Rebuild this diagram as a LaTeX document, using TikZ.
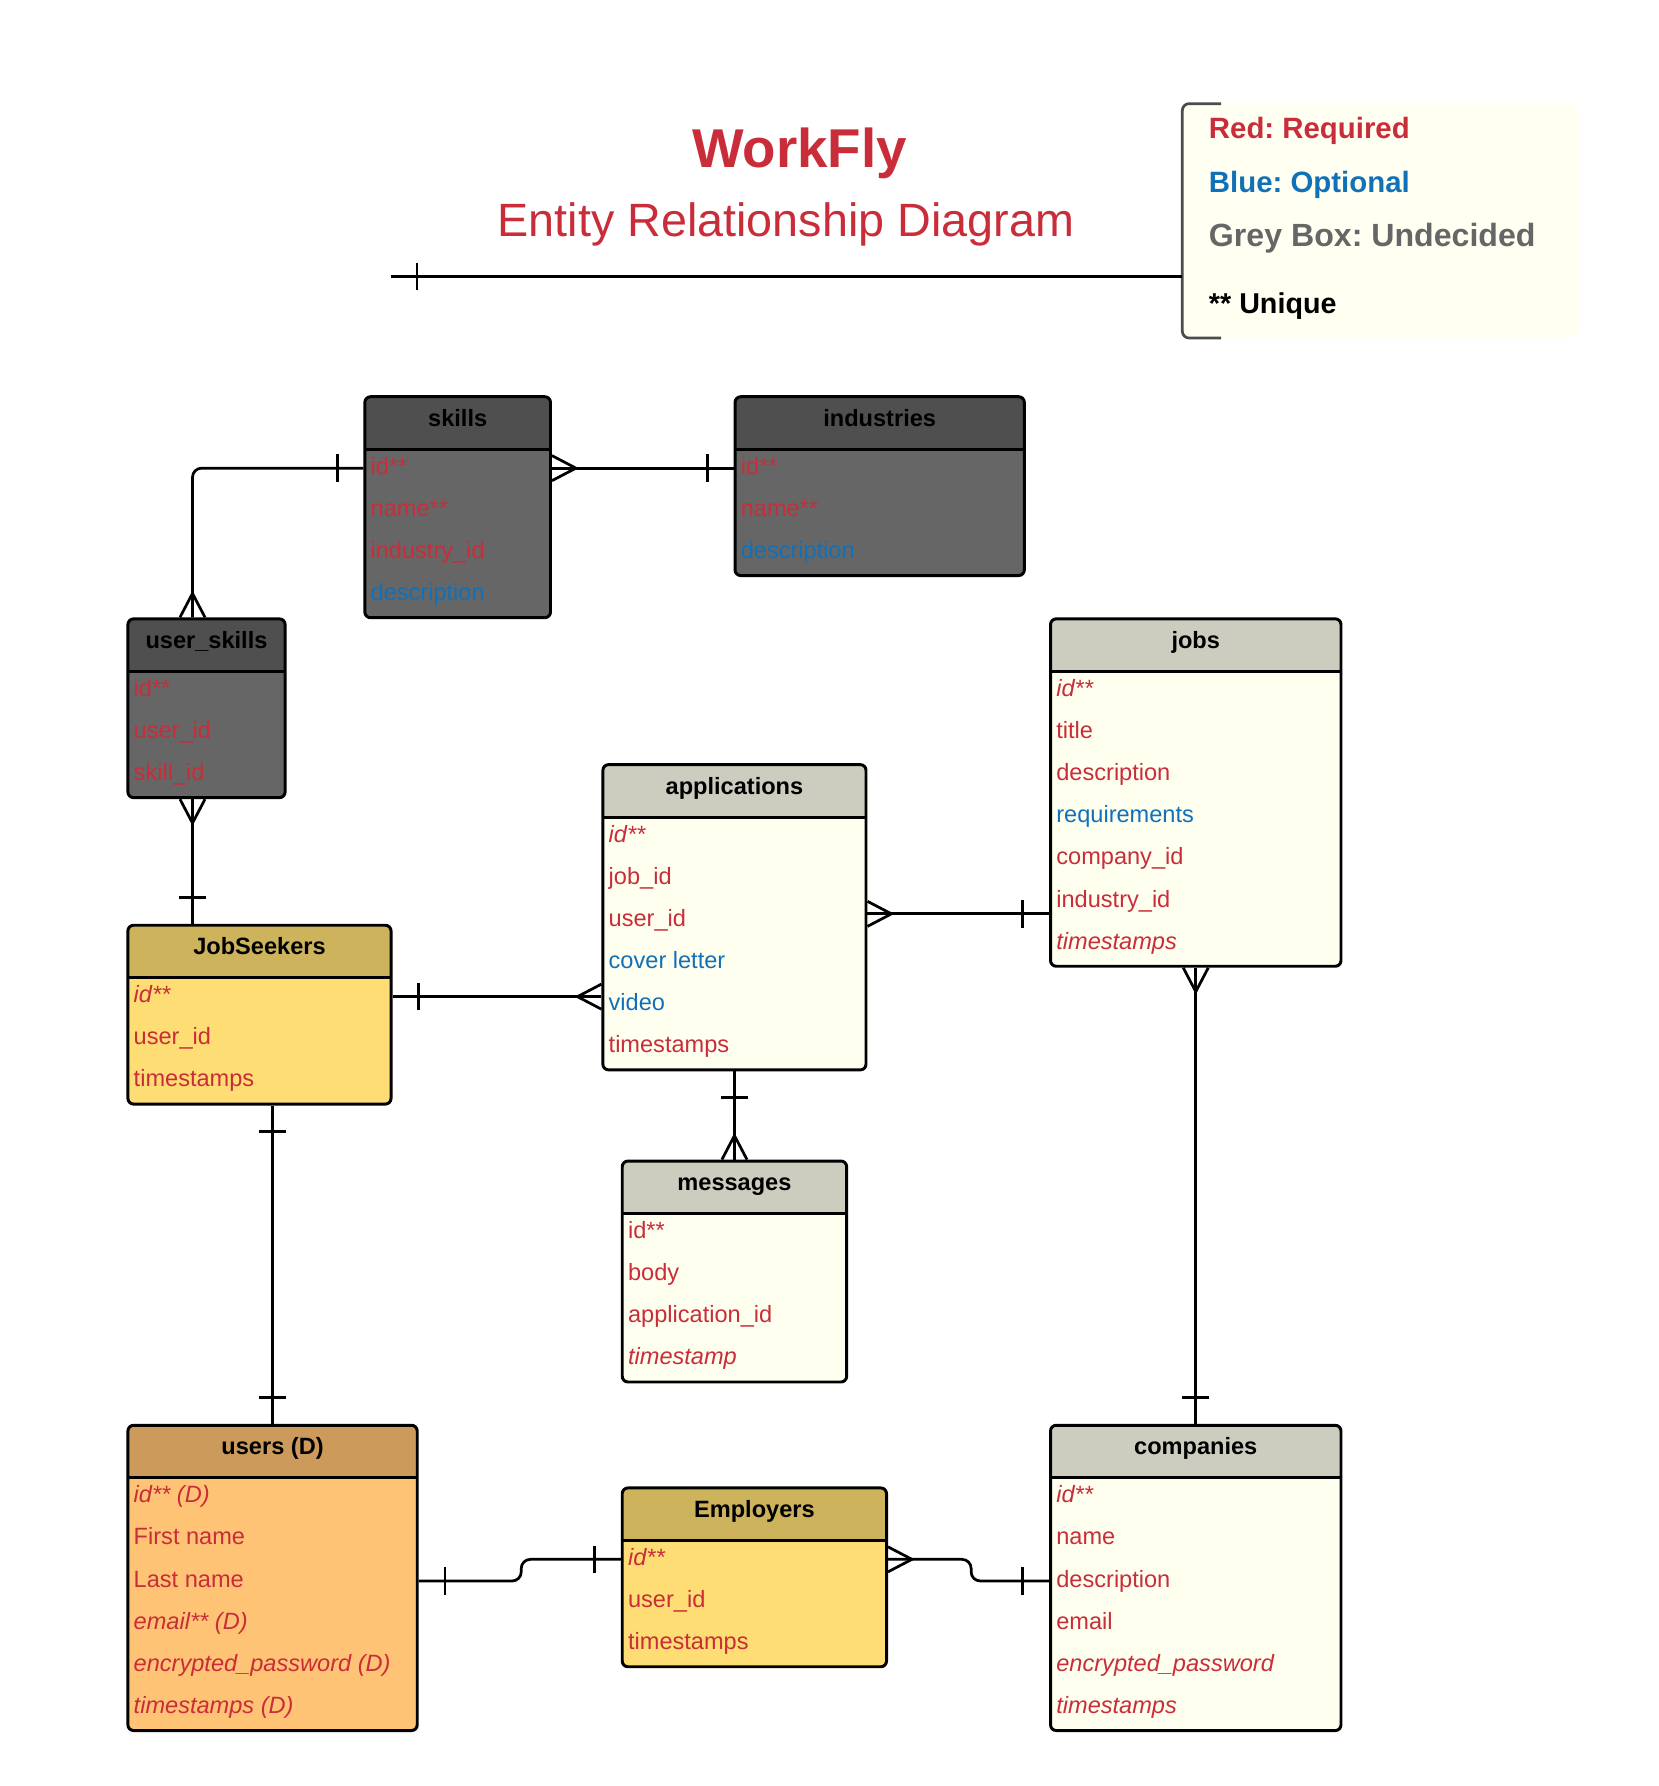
\documentclass[tikz,border=0pt]{standalone}
\usepackage{fontspec}
\setmainfont{Liberation Sans}
\frenchspacing
\usetikzlibrary{calc, decorations.markings}

\definecolor{ered}{HTML}{C92D39}
\definecolor{eblue}{HTML}{1071B9}
\definecolor{egrey}{HTML}{666666}
\definecolor{greyhd}{HTML}{4F4F4F}
\definecolor{greybd}{HTML}{666666}
\definecolor{lighthd}{HTML}{CCCCBF}
\definecolor{lightbd}{HTML}{FFFFF0}
\definecolor{goldhd}{HTML}{CCB35C}
\definecolor{goldbd}{HTML}{FFDD75}
\definecolor{tanhd}{HTML}{CC9A5A}
\definecolor{tanbd}{HTML}{FFC375}
\definecolor{legbg}{HTML}{FFFFF2}

\tikzset{
	entity/.style 2 args={draw, line width=1.3pt, rounded corners=2.5pt, fill=#2,
		inner sep=0pt, anchor=north west,
		path picture={
			\fill[#1, sharp corners] (path picture bounding box.north west)
				rectangle ([yshift=-23pt]path picture bounding box.north east);
			\draw[line width=1.3pt, sharp corners] ([yshift=-23pt]path picture bounding box.north west)
				-- ([yshift=-23pt]path picture bounding box.north east);
		}},
	hdtitle/.style={inner sep=0pt, text height=7.5pt, text depth=2.2pt,
		font=\fontsize{10.35}{12}\selectfont\bfseries},
	row/.style={inner sep=0pt, anchor=west, text height=7.5pt, text depth=2.2pt,
		font=\fontsize{10.35}{12}\selectfont},
	req/.style={text=ered},
	reqi/.style={text=ered, font=\fontsize{10.35}{12}\selectfont\itshape},
	opt/.style={text=eblue},
	legtxt/.style={anchor=west, inner sep=0pt, text height=9pt, text depth=3pt,
		font=\fontsize{#1}{16}\selectfont\bfseries},
	conn/.style={line width=1.2pt, rounded corners=4pt},
	one start/.style={postaction={decorate, decoration={markings,
		mark=at position 11.5pt with {\draw[line width=1.2pt, sharp corners] (0,-6pt) -- (0,6pt);}}}},
	one end/.style={postaction={decorate, decoration={markings,
		mark=at position -11.5pt with {\draw[line width=1.2pt, sharp corners] (0,-6pt) -- (0,6pt);}}}},
	many start/.style={postaction={decorate, decoration={markings,
		mark=at position 10.5pt with {\draw[line width=1.2pt, sharp corners] (-10.5pt,-5.5pt) -- (0,0) -- (-10.5pt,5.5pt);}}}},
	many end/.style={postaction={decorate, decoration={markings,
		mark=at position -10.5pt with {\draw[line width=1.2pt, sharp corners] (10.5pt,-5.5pt) -- (0,0) -- (10.5pt,5.5pt);}}}}
}

\begin{document}
\begin{tikzpicture}[x=0.5pt, y=-0.5pt]
	\useasboundingbox (0,0) rectangle (1456,1568);

	% title
	\node[inner sep=0pt, text height=17.2pt, text depth=0pt, text=ered,
		font=\fontsize{24}{28}\selectfont\bfseries] (title) at (702,130) {WorkFly};
	\node[inner sep=0pt, text height=14.7pt, text depth=0pt, text=ered,
		font=\fontsize{20.5}{24}\selectfont] (subtitle) at (690,193) {Entity Relationship Diagram};

	% legend
	\node[fill=legbg, rounded corners=3pt, minimum width=173.5pt, minimum height=102.5pt,
		inner sep=0pt, anchor=north west] (legend) at (1038,91) {};
	\draw[line width=1.2pt, draw=black!70, rounded corners=3pt]
		([xshift=17pt]legend.north west) -- (legend.north west)
		-- (legend.south west) -- ([xshift=17pt]legend.south west);
	\node[legtxt=12.9, text=ered] (leg-red) at ([xshift=11.5pt, yshift=-12.5pt]legend.north west) {Red: Required};
	\node[legtxt=12.9, text=eblue] (leg-blue) at ([xshift=11.5pt, yshift=-36pt]legend.north west) {Blue: Optional};
	\node[legtxt=14.1, text=egrey] (leg-grey) at ([xshift=11.5pt, yshift=-59.5pt]legend.north west) {Grey Box: Undecided};
	\node[legtxt=12.6] (leg-unique) at ([xshift=11.5pt, yshift=-89pt]legend.north west) {** Unique};
	\coordinate (legstart) at (343,243);

	% undecided tables
	\node[entity={greyhd}{greybd}, minimum width=81.5pt, minimum height=97pt] (skills) at (319,347) {};
	\node[hdtitle] (skills-t) at ([yshift=-11pt]skills.north) {skills};
	\foreach \t/\s [count=\i] in {id**/req, name**/req, industry\_id/req, description/opt}
		\node[row,\s] (skills-\i) at ([xshift=3pt, yshift={-13.5pt-18.5pt*\i}]skills.north west) {\t};

	\node[entity={greyhd}{greybd}, minimum width=127pt, minimum height=78.5pt] (industries) at (644,347) {};
	\node[hdtitle] (industries-t) at ([yshift=-11pt]industries.north) {industries};
	\foreach \t/\s [count=\i] in {id**/req, name**/req, description/opt}
		\node[row,\s] (industries-\i) at ([xshift=3pt, yshift={-13.5pt-18.5pt*\i}]industries.north west) {\t};

	\node[entity={greyhd}{greybd}, minimum width=69pt, minimum height=78.5pt] (userskills) at (111,542) {};
	\node[hdtitle] (userskills-t) at ([yshift=-11pt]userskills.north) {user\_skills};
	\foreach \t/\s [count=\i] in {id**/req, user\_id/req, skill\_id/req}
		\node[row,\s] (userskills-\i) at ([xshift=3pt, yshift={-13.5pt-18.5pt*\i}]userskills.north west) {\t};

	% main tables
	\node[entity={lighthd}{lightbd}, minimum width=127.5pt, minimum height=152.5pt] (jobs) at (921,542) {};
	\node[hdtitle] (jobs-t) at ([yshift=-11pt]jobs.north) {jobs};
	\foreach \t/\s [count=\i] in {id**/reqi, title/req, description/req, requirements/opt,
			company\_id/req, industry\_id/req, timestamps/reqi}
		\node[row,\s] (jobs-\i) at ([xshift=3pt, yshift={-13.5pt-18.5pt*\i}]jobs.north west) {\t};

	\node[entity={lighthd}{lightbd}, minimum width=115.5pt, minimum height=134pt] (applications) at (528,670) {};
	\node[hdtitle] (applications-t) at ([yshift=-11pt]applications.north) {applications};
	\foreach \t/\s [count=\i] in {id**/reqi, job\_id/req, user\_id/req, cover letter/opt,
			video/opt, timestamps/req}
		\node[row,\s] (applications-\i) at ([xshift=3pt, yshift={-13.5pt-18.5pt*\i}]applications.north west) {\t};

	\node[entity={lighthd}{lightbd}, minimum width=98.5pt, minimum height=97pt] (messages) at (545,1018) {};
	\node[hdtitle] (messages-t) at ([yshift=-11pt]messages.north) {messages};
	\foreach \t/\s [count=\i] in {id**/req, body/req, application\_id/req, timestamp/reqi}
		\node[row,\s] (messages-\i) at ([xshift=3pt, yshift={-13.5pt-18.5pt*\i}]messages.north west) {\t};

	\node[entity={goldhd}{goldbd}, minimum width=115.5pt, minimum height=78.5pt] (jobseekers) at (111,811) {};
	\node[hdtitle] (jobseekers-t) at ([yshift=-11pt]jobseekers.north) {JobSeekers};
	\foreach \t/\s [count=\i] in {id**/reqi, user\_id/req, timestamps/req}
		\node[row,\s] (jobseekers-\i) at ([xshift=3pt, yshift={-13.5pt-18.5pt*\i}]jobseekers.north west) {\t};

	\node[entity={tanhd}{tanbd}, minimum width=127pt, minimum height=134pt] (users) at (111,1250) {};
	\node[hdtitle] (users-t) at ([yshift=-11pt]users.north) {users (D)};
	\foreach \t/\s [count=\i] in {id** (D)/reqi, First name/req, Last name/req, email** (D)/reqi,
			encrypted\_password (D)/reqi, timestamps (D)/reqi}
		\node[row,\s] (users-\i) at ([xshift=3pt, yshift={-13.5pt-18.5pt*\i}]users.north west) {\t};

	\node[entity={goldhd}{goldbd}, minimum width=116pt, minimum height=78.5pt] (employers) at (545,1305) {};
	\node[hdtitle] (employers-t) at ([yshift=-11pt]employers.north) {Employers};
	\foreach \t/\s [count=\i] in {id**/reqi, user\_id/req, timestamps/req}
		\node[row,\s] (employers-\i) at ([xshift=3pt, yshift={-13.5pt-18.5pt*\i}]employers.north west) {\t};

	\node[entity={lighthd}{lightbd}, minimum width=127.5pt, minimum height=134pt] (companies) at (921,1250) {};
	\node[hdtitle] (companies-t) at ([yshift=-11pt]companies.north) {companies};
	\foreach \t/\s [count=\i] in {id**/reqi, name/req, description/req, email/req,
			encrypted\_password/reqi, timestamps/reqi}
		\node[row,\s] (companies-\i) at ([xshift=3pt, yshift={-13.5pt-18.5pt*\i}]companies.north west) {\t};

	% relations
	\draw[conn, one start] (legstart) -- (legstart -| legend.west);
	\draw[conn, one start, many end] (skills-1 -| skills.west) -| ([xshift=29pt]userskills.north west);
	\draw[conn, many start, one end] (skills-1 -| skills.east) -- (skills-1 -| industries.west);
	\draw[conn, many start, one end] ([xshift=29pt]userskills.south west)
		-- ([xshift=29pt]userskills.south west |- jobseekers.north);
	\draw[conn, one start, many end] (jobseekers-1 -| jobseekers.east) -- (jobseekers-1 -| applications.west);
	\draw[conn, many start, one end] ([yshift=1.5pt]applications.east) -- ([yshift=1.5pt]applications.east -| jobs.west);
	\draw[conn, one start, many end] (applications.south) -- (messages.north);
	\draw[conn, many start, one end] (jobs.south) -- (companies.north);
	\draw[conn, one start, one end] (users.north |- jobseekers.south) -- (users.north);
	\draw[conn, one start, one end] (users-3 -| users.east) -- ++(90,0) |- (employers-1 -| employers.west);
	\draw[conn, many start, one end] (employers-1 -| employers.east) -- ++(73,0) |- (companies-3 -| companies.west);
\end{tikzpicture}
\end{document}
